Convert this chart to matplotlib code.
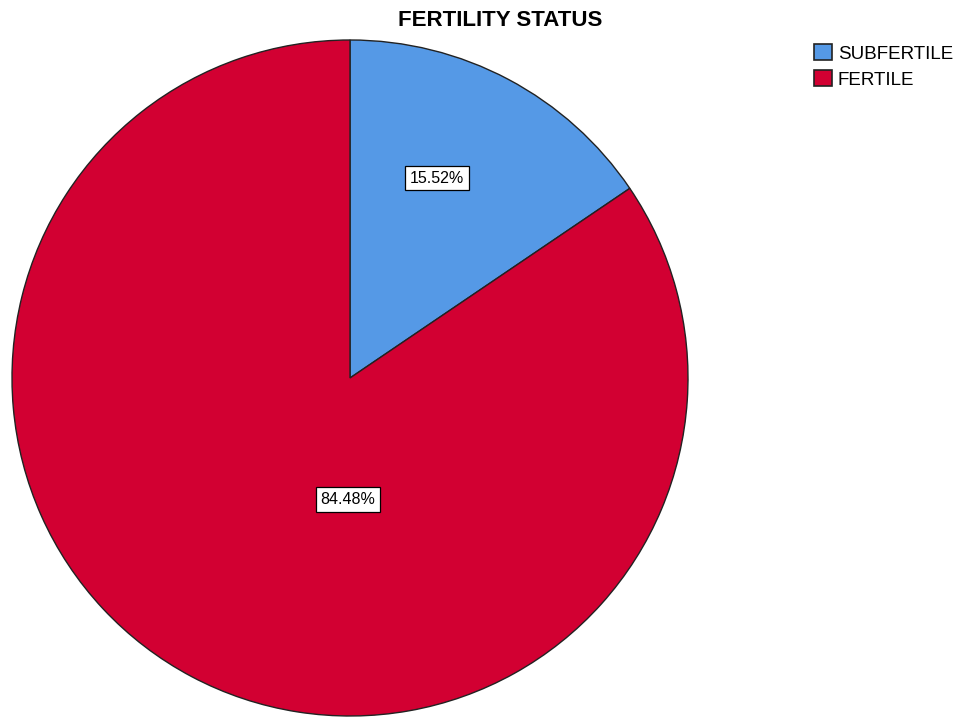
import numpy as np
import matplotlib.pyplot as plt
from matplotlib.patches import Patch

plt.rcParams['font.family'] = ['Liberation Sans', 'DejaVu Sans']

categories = ["SUBFERTILE", "FERTILE"]
shares = [15.52, 84.48]
colors = ["#5599E6", "#D20032"]
pct_labels = ["15.52%", "84.48%"]

fig = plt.figure(figsize=(9.59, 7.19), dpi=100)
ax = fig.add_axes([12 / 959, 3 / 719, 676 / 959, 676 / 719])

wedges, _ = ax.pie(shares, colors=colors, startangle=90, counterclock=False,
                   radius=1.0, wedgeprops=dict(edgecolor="#222222", linewidth=1.0))
ax.set_xlim(-1.0, 1.0)
ax.set_ylim(-1.0, 1.0)
ax.set_aspect("auto")
ax.axis("off")

# label placement (fraction of radius, angle in degrees), SPSS-style
label_pos = [(0.645, 66.5), (0.36, -91.0)]
for txt, (r, ang) in zip(pct_labels, label_pos):
    a = np.deg2rad(ang)
    ax.text(r * np.cos(a), r * np.sin(a), txt, ha="center", va="center",
            fontsize=11.5, color="black",
            bbox=dict(boxstyle="square,pad=0.3", facecolor="white",
                      edgecolor="black", linewidth=0.9))

fig.text(500 / 959, 1 - 21 / 719, "FERTILITY STATUS", ha="center", va="center",
         fontsize=16, fontweight="bold")

handles = [Patch(facecolor=c, edgecolor="#222222", linewidth=1.2, label=l)
           for c, l in zip(colors, categories)]
fig.legend(handles=handles, loc="upper left", bbox_to_anchor=(814 / 959, 1 - 44 / 719),
           frameon=False, fontsize=13.5, handlelength=0.96, handleheight=0.96,
           handletextpad=0.3, labelspacing=0.4, borderaxespad=0, borderpad=0)

fig.savefig("out.png", dpi=100)
